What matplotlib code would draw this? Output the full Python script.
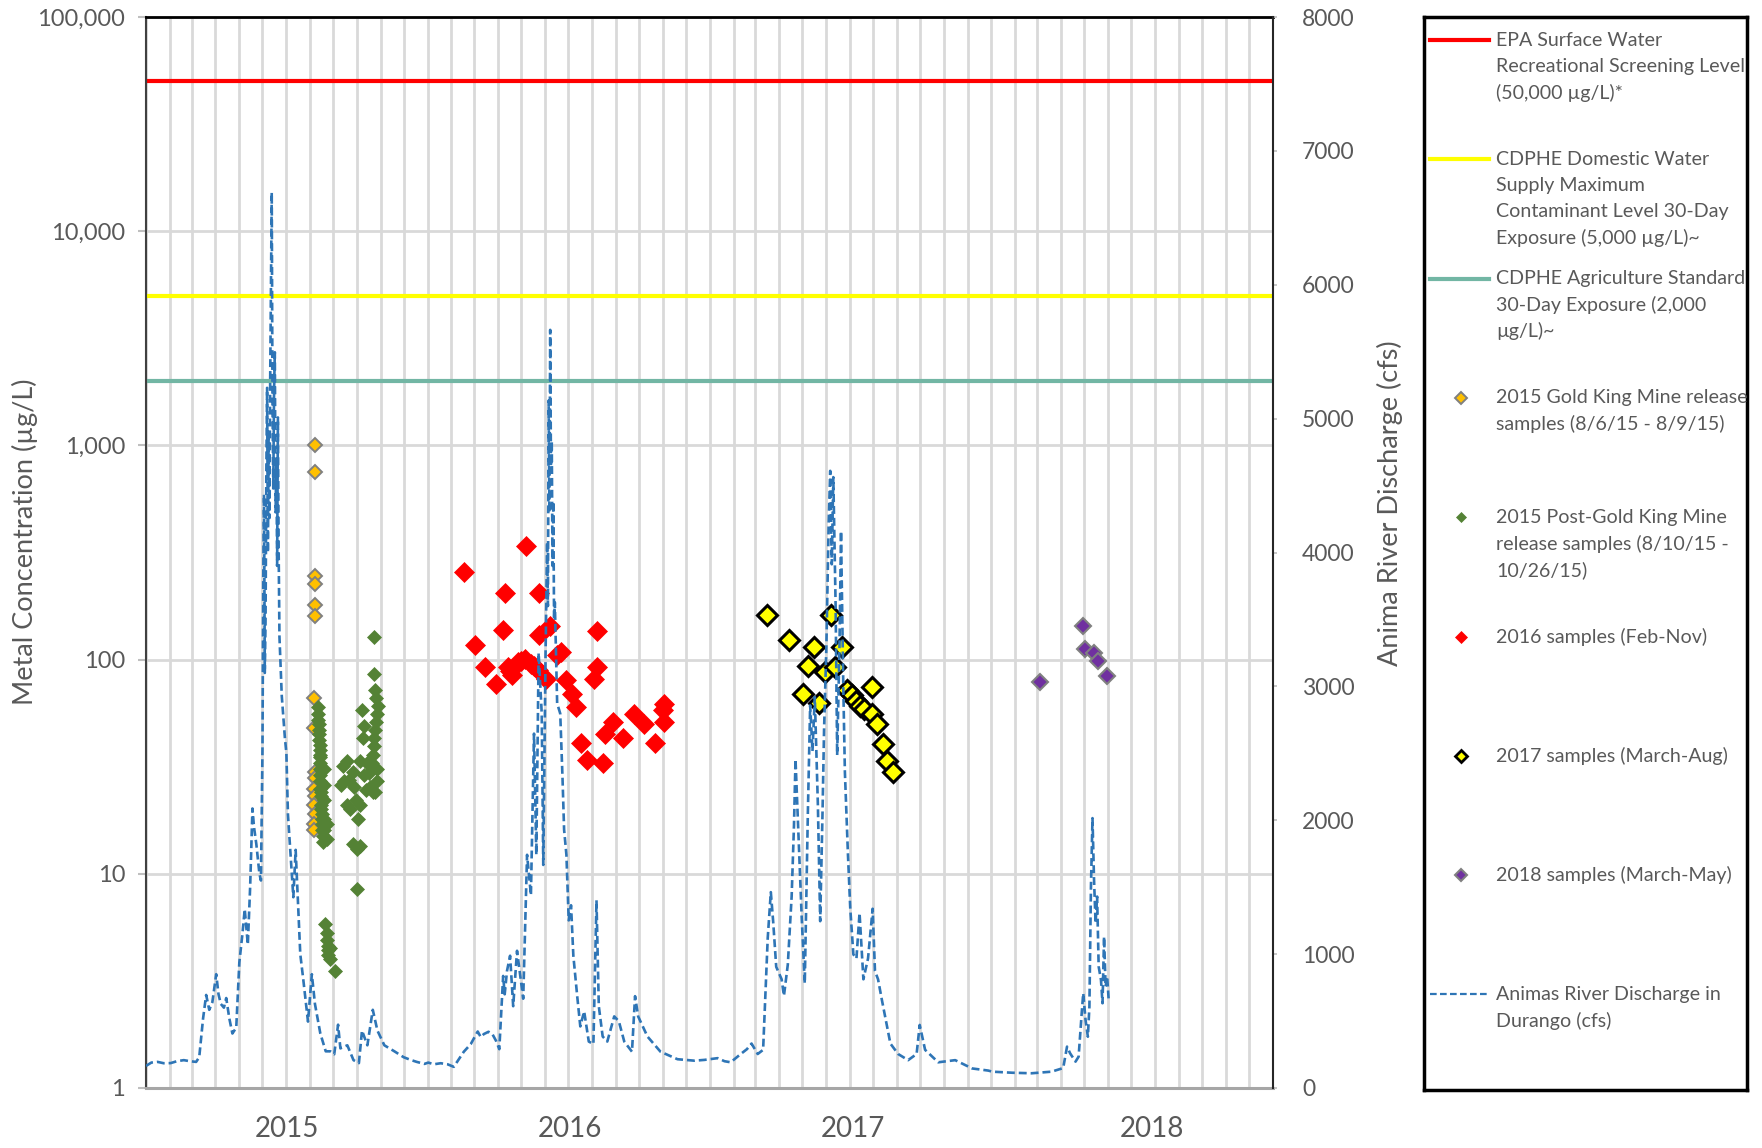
import matplotlib
matplotlib.use('Agg')
import matplotlib.pyplot as plt
import matplotlib.dates as mdates
import matplotlib.ticker as mticker
from matplotlib.lines import Line2D
import pandas as pd

plt.rcParams['font.family'] = ['Lato', 'DejaVu Sans']
TXT = '#595959'

# ---- Animas River discharge in Durango (cfs) ----
discharge_dates = [
    '2015-01-01', '2015-01-08', '2015-01-16', '2015-01-24', '2015-02-02', '2015-02-10',
    '2015-02-19', '2015-02-27', '2015-03-07', '2015-03-11', '2015-03-16', '2015-03-20',
    '2015-03-24', '2015-03-28', '2015-04-02', '2015-04-05', '2015-04-08', '2015-04-12',
    '2015-04-15', '2015-04-19', '2015-04-23', '2015-04-28', '2015-05-02', '2015-05-06',
    '2015-05-09', '2015-05-13', '2015-05-16', '2015-05-19', '2015-05-21', '2015-05-24',
    '2015-05-28', '2015-05-30', '2015-06-01', '2015-06-02', '2015-06-03', '2015-06-04',
    '2015-06-05', '2015-06-06', '2015-06-07', '2015-06-08', '2015-06-09', '2015-06-10',
    '2015-06-11', '2015-06-12', '2015-06-13', '2015-06-14', '2015-06-15', '2015-06-16',
    '2015-06-17', '2015-06-18', '2015-06-19', '2015-06-20', '2015-06-21', '2015-06-22',
    '2015-06-23', '2015-06-26', '2015-06-30', '2015-07-02', '2015-07-04', '2015-07-07',
    '2015-07-11', '2015-07-14', '2015-07-17', '2015-07-20', '2015-07-24', '2015-07-30',
    '2015-08-04', '2015-08-08', '2015-08-15', '2015-08-22', '2015-08-28', '2015-09-02',
    '2015-09-07', '2015-09-10', '2015-09-19', '2015-09-27', '2015-10-04', '2015-10-08',
    '2015-10-15', '2015-10-22', '2015-10-28', '2015-11-06', '2015-11-19', '2015-12-01',
    '2015-12-10', '2015-12-18', '2015-12-28',
    '2016-01-02', '2016-01-09', '2016-01-18', '2016-01-27', '2016-02-04', '2016-02-10',
    '2016-02-17', '2016-02-26', '2016-03-06', '2016-03-10', '2016-03-14', '2016-03-20',
    '2016-03-25', '2016-03-30', '2016-04-03', '2016-04-08', '2016-04-10', '2016-04-13',
    '2016-04-17', '2016-04-21', '2016-04-26', '2016-05-01', '2016-05-04', '2016-05-09',
    '2016-05-14', '2016-05-18', '2016-05-21', '2016-05-24', '2016-05-28', '2016-05-30',
    '2016-06-02', '2016-06-04', '2016-06-05', '2016-06-06', '2016-06-07', '2016-06-08',
    '2016-06-09', '2016-06-10', '2016-06-11', '2016-06-12', '2016-06-13',
    '2016-06-14', '2016-06-17', '2016-06-21', '2016-06-24', '2016-06-26', '2016-06-29',
    '2016-07-02', '2016-07-05', '2016-07-08', '2016-07-13', '2016-07-17', '2016-07-22',
    '2016-07-28', '2016-08-03', '2016-08-07', '2016-08-10', '2016-08-15', '2016-08-21',
    '2016-08-30', '2016-09-05', '2016-09-12', '2016-09-22', '2016-09-26', '2016-09-30',
    '2016-10-12', '2016-10-29', '2016-11-20', '2016-12-12', '2016-12-25',
    '2017-01-11', '2017-01-20', '2017-01-28', '2017-02-10', '2017-02-18', '2017-02-24',
    '2017-03-04', '2017-03-11', '2017-03-14', '2017-03-17', '2017-03-21', '2017-03-24',
    '2017-03-28', '2017-04-04', '2017-04-07', '2017-04-12', '2017-04-17', '2017-04-20',
    '2017-04-22', '2017-04-26', '2017-04-30', '2017-05-04', '2017-05-08', '2017-05-11',
    '2017-05-14', '2017-05-17', '2017-05-21', '2017-05-24', '2017-05-27', '2017-05-29',
    '2017-06-01', '2017-06-04', '2017-06-06', '2017-06-08', '2017-06-10', '2017-06-13',
    '2017-06-15', '2017-06-18', '2017-06-20', '2017-06-23', '2017-06-25', '2017-06-29',
    '2017-07-02', '2017-07-06', '2017-07-10', '2017-07-14', '2017-07-19', '2017-07-25',
    '2017-07-31', '2017-08-03', '2017-08-07', '2017-08-12', '2017-08-23', '2017-09-02',
    '2017-09-15', '2017-09-26', '2017-09-30', '2017-10-07', '2017-10-24', '2017-11-15',
    '2017-12-07', '2017-12-28',
    '2018-01-02', '2018-01-28', '2018-02-22', '2018-03-20', '2018-04-04', '2018-04-09',
    '2018-04-13', '2018-04-20', '2018-04-24', '2018-04-28', '2018-04-30', '2018-05-03',
    '2018-05-06', '2018-05-08', '2018-05-10', '2018-05-12', '2018-05-14', '2018-05-16',
    '2018-05-18', '2018-05-20', '2018-05-23', '2018-05-25', '2018-05-27', '2018-05-29',
    '2018-05-31', '2018-06-02',
]
discharge_cfs = [
    165, 190, 195, 185, 186, 200,
    208, 200, 195, 230, 520, 695,
    584, 640, 850, 700, 628, 600,
    672, 520, 407, 451, 938, 1150,
    1336, 1071, 1500, 2088, 1950, 1823,
    1602, 1550, 2531, 3800, 4434, 3100,
    3504, 4600, 5230, 4000, 4900, 4257,
    5300, 6000, 6690, 5100, 4478, 5200,
    5496, 4300, 4700, 3900, 5009, 4000,
    3372, 2929, 2619, 2500, 2044, 1779,
    1425, 1779, 1381, 1000, 805, 496,
    850, 628, 407, 274, 274, 252,
    473, 296, 319, 208, 186, 429,
    319, 584, 429, 319, 274, 230,
    210, 195, 180,
    190, 177, 185, 177, 158, 210,
    271, 328, 422, 380, 403, 420,
    403, 350, 290, 837, 700, 875,
    988, 611, 1025, 800, 667, 1742,
    1440, 2647, 1742, 3250, 2797, 1666,
    3250, 4079, 3600, 5135, 4300, 5663,
    4600, 4833, 3900, 4381, 3500,
    3627, 2873, 2797, 2307, 1930, 1742,
    1252, 1365, 988, 686, 460, 573,
    347, 328, 1402, 611, 385, 347,
    535, 498, 347, 271, 686, 535,
    385, 271, 215, 204, 210,
    223, 200, 192, 254, 290, 332,
    254, 285, 700, 1122, 1463, 1246,
    905, 812, 688, 921, 1432, 1959,
    2455, 1866, 1277, 781, 2052, 2858,
    2517, 2920, 2114, 1246, 2052, 2672,
    3292, 4222, 4610, 3912, 4563, 3602,
    2486, 3292, 4160, 2982, 2362, 1742,
    1339, 998, 967, 1308, 812, 967,
    1339, 874, 812, 657, 332, 254,
    208, 254, 471, 285, 192, 208,
    146, 130,
    122, 114, 110, 122, 149, 309,
    259, 197, 234, 558, 708, 508,
    383, 608, 1505, 2016, 1555, 1231,
    1430, 907, 807, 633, 1131, 757,
    832, 658,
]

# ---- Metal concentration samples (ug/L) ----
gk_dates = ['2015-08-08', '2015-08-08', '2015-08-08', '2015-08-08', '2015-08-08', '2015-08-08',
            '2015-08-07', '2015-08-07', '2015-08-08', '2015-08-08', '2015-08-07', '2015-08-08',
            '2015-08-07', '2015-08-08', '2015-08-07', '2015-08-07']
gk_vals = [1000, 750, 245, 225, 180, 160, 66, 48, 30, 28, 25, 23, 21, 19, 17, 16]

post_dates = (['2015-08-12'] * 3 + ['2015-08-13'] * 4 + ['2015-08-14'] * 5 + ['2015-08-15'] * 4
              + ['2015-08-16'] * 4 + ['2015-08-17'] * 4 + ['2015-08-18'] * 2 + ['2015-08-20'] * 5
              + ['2015-08-23'] * 2
              + ['2015-08-21', '2015-08-24', '2015-08-24', '2015-08-25', '2015-08-25', '2015-08-25',
                 '2015-08-27', '2015-08-27', '2015-09-03']
              + ['2015-09-13', '2015-09-19', '2015-09-15', '2015-09-21', '2015-09-11', '2015-09-26',
                 '2015-09-28', '2015-09-18', '2015-09-23', '2015-09-30', '2015-10-06', '2015-10-03',
                 '2015-09-26', '2015-10-06', '2015-10-01', '2015-10-01']
              + ['2015-10-08', '2015-10-10', '2015-10-09', '2015-10-06', '2015-10-14', '2015-10-17',
                 '2015-10-11', '2015-10-22', '2015-10-13']
              + ['2015-10-23', '2015-10-24', '2015-10-25', '2015-10-26', '2015-10-29', '2015-10-27',
                 '2015-10-26', '2015-10-25', '2015-10-24', '2015-10-23', '2015-10-22', '2015-10-21',
                 '2015-10-27', '2015-10-28', '2015-10-25', '2015-10-18'])
post_vals = ([60, 56, 52] + [50, 47, 45, 42] + [40, 38, 36, 35, 33] + [31, 29, 27, 25]
             + [24, 23, 21, 20] + [19, 18, 17, 16] + [15, 14] + [31, 26, 22, 18, 16]
             + [14.5, 17]
             + [5.8, 5.3, 4.9, 4.6, 4.4, 4.2, 4.5, 4.0, 3.5]
             + [32, 33.5, 27, 27.5, 26, 30, 25.5, 21, 20, 22, 21, 18, 13.8, 13.5, 13, 8.5]
             + [58, 49, 43, 33.5, 33, 29.5, 29, 24, 24.6]
             + [128, 86, 72, 66, 61, 56, 51, 47, 43, 39.5, 36, 33, 31, 27, 24, 25.5])

s2016_dates = ['2016-02-17', '2016-05-08', '2016-04-10', '2016-05-24', '2016-04-08', '2016-05-25',
               '2016-06-08', '2016-03-03', '2016-08-08', '2016-03-15', '2016-03-30', '2016-04-14',
               '2016-04-20', '2016-04-27', '2016-05-06', '2016-05-14', '2016-05-23', '2016-06-03',
               '2016-06-17', '2016-06-22', '2016-06-29', '2016-07-06', '2016-07-12', '2016-08-08',
               '2016-08-04', '2016-07-18', '2016-07-26', '2016-08-15', '2016-08-18', '2016-08-28',
               '2016-09-10', '2016-09-25', '2016-10-08', '2016-10-22', '2016-11-02', '2016-11-02',
               '2016-11-01', '2016-04-17', '2016-05-01', '2016-05-18']
s2016_vals = [256, 339, 205, 205, 138, 130,
              143, 117, 136, 92, 77, 92,
              84.5, 97.5, 101, 95.8, 89, 81.5,
              105, 108.6, 80, 69, 60, 92.4,
              81.5, 41, 34, 33, 45, 51,
              43, 56, 50, 41, 51, 62,
              58, 88, 99, 93]

s2017_dates = ['2017-03-16', '2017-04-14', '2017-05-16', '2017-06-07', '2017-06-21', '2017-05-08',
               '2017-05-30', '2017-06-12', '2017-05-02', '2017-05-23', '2017-07-30', '2017-06-28',
               '2017-07-04', '2017-07-09', '2017-07-15', '2017-07-20', '2017-07-30', '2017-08-06',
               '2017-08-13', '2017-08-19', '2017-08-27']
s2017_vals = [162, 124, 115, 162, 115, 93,
              87.5, 92, 69, 63, 74.5, 72,
              68, 64, 60.5, 59, 56, 50,
              40.5, 33.5, 30]

s2018_dates = ['2018-03-05', '2018-04-30', '2018-05-02', '2018-05-14', '2018-05-19', '2018-05-31']
s2018_vals = [78.6, 144, 112.6, 107, 99, 84]

# screening levels (ug/L)
epa_level = 50000
domestic_level = 5000
agri_level = 2000

year_labels = ['2015', '2016', '2017', '2018']
year_label_dates = ['2015-07-03', '2016-07-03', '2017-07-05', '2018-07-28']

legend_labels = [
    'EPA Surface Water\nRecreational Screening Level\n(50,000 µg/L)*',
    'CDPHE Domestic Water\nSupply Maximum\nContaminant Level 30-Day\nExposure (5,000 µg/L)~',
    'CDPHE Agriculture Standard\n30-Day Exposure (2,000\nµg/L)~',
    '2015 Gold King Mine release\nsamples (8/6/15 - 8/9/15)',
    '2015 Post-Gold King Mine\nrelease samples (8/10/15 -\n10/26/15)',
    '2016 samples (Feb-Nov)',
    '2017 samples (March-Aug)',
    '2018 samples (March-May)',
    'Animas River Discharge in\nDurango (cfs)',
]

d = pd.to_datetime

fig = plt.figure(figsize=(17.62, 11.48), dpi=100)
W, H = 1762, 1148
L, R, T, B = 146, 1273, 17, 1088
ax = fig.add_axes([L / W, 1 - B / H, (R - L) / W, (B - T) / H])
ax2 = ax.twinx()

# reference lines
ax.axhline(epa_level, color='#ff0000', lw=3, zorder=2)
ax.axhline(domestic_level, color='#ffff00', lw=3, zorder=2)
ax.axhline(agri_level, color='#72b6a4', lw=3, zorder=2)

# samples
ax.plot(d(gk_dates), gk_vals, ls='none', marker='D', ms=7, mfc='#ffc000', mec='#808080', mew=1.4, zorder=3)
ax.plot(d(post_dates), post_vals, ls='none', marker='D', ms=7.5, mfc='#548235', mec='#548235', mew=0.5, zorder=3)
ax.plot(d(s2016_dates), s2016_vals, ls='none', marker='D', ms=9.8, mfc='#ff0000', mec='#ff0000', mew=0.5, zorder=3)
ax.plot(d(s2017_dates), s2017_vals, ls='none', marker='D', ms=10, mfc='#ffff00', mec='black', mew=2.2, zorder=3)
ax.plot(d(s2018_dates), s2018_vals, ls='none', marker='D', ms=8.5, mfc='#7030a0', mec='#808080', mew=1.5, zorder=3)

# discharge on secondary axis
ax2.plot(d(discharge_dates), discharge_cfs, color='#2e75b6', lw=1.9, ls=(0, (3, 1.5)))

# axes scales
ax.set_yscale('log')
ax.set_ylim(1, 1e5)
ax.set_xlim(d('2015-01-01'), d('2019-01-01'))
ax2.set_ylim(0, 8000)

ax.yaxis.set_major_locator(mticker.LogLocator(base=10))
ax.yaxis.set_minor_locator(mticker.NullLocator())
ax.yaxis.set_major_formatter(mticker.FuncFormatter(lambda v, p: f'{v:,.0f}'))
ax.tick_params(axis='y', length=6, width=1.5, color='#bfbfbf', labelsize=17, labelcolor=TXT, pad=9)

ax.xaxis.set_major_locator(mdates.MonthLocator())
ax.tick_params(axis='x', which='major', length=0, labelbottom=False)
ax.xaxis.set_minor_locator(mticker.FixedLocator(mdates.date2num(d(['2016-01-01', '2017-01-01', '2018-01-01']))))
ax.tick_params(axis='x', which='minor', length=44, width=1, color='#a6a6a6', direction='out', labelbottom=False)
ax.grid(True, which='major', color='#d9d9d9', lw=2)
ax.set_axisbelow(True)

for lab, xd in zip(year_labels, year_label_dates):
    ax.text(d(xd), -0.038, lab, transform=ax.get_xaxis_transform(), ha='center', va='center',
            fontsize=20, color=TXT)

ax2.set_yticks(range(0, 8001, 1000))
ax2.tick_params(axis='y', length=3, width=1.2, color='#bfbfbf', labelsize=16.5, labelcolor=TXT, pad=18)

ax.set_ylabel('Metal Concentration (µg/L)', fontsize=19.5, color=TXT, va='center')
ax.yaxis.set_label_coords(-0.107, 0.51)
ax2.set_ylabel('Anima River Discharge (cfs)', fontsize=19.5, color=TXT)
ax2.yaxis.label.set_verticalalignment('center')
ax2.yaxis.set_label_coords(1.104, 0.546)

for s in ['top', 'left', 'bottom', 'right']:
    ax2.spines[s].set_visible(s == 'right')
ax.spines['right'].set_visible(False)
ax.spines['top'].set_color('black')
ax.spines['top'].set_linewidth(2)
ax.spines['left'].set_color('#404040')
ax.spines['left'].set_linewidth(1.5)
ax.spines['bottom'].set_color('#a6a6a6')
ax.spines['bottom'].set_linewidth(2.2)
ax2.spines['right'].set_color('#262626')
ax2.spines['right'].set_linewidth(1.5)

# legend box
LL, LR, LT, LB = 1424, 1747, 17, 1090
lax = fig.add_axes([LL / W, 1 - LB / H, (LR - LL) / W, (LB - LT) / H])
lax.set_xlim(LL, LR)
lax.set_ylim(LB, LT)
lax.set_xticks([])
lax.set_yticks([])
for s in lax.spines.values():
    s.set_linewidth(2.5)
    s.set_color('black')

handles = [
    dict(color='#ff0000', lw=3, ls='-'),
    dict(color='#ffff00', lw=3, ls='-'),
    dict(color='#72b6a4', lw=3, ls='-'),
    dict(ls='none', marker='D', ms=6.5, mfc='#ffc000', mec='#808080', mew=1.4),
    dict(ls='none', marker='D', ms=5.5, mfc='#548235', mec='#548235', mew=0.5),
    dict(ls='none', marker='D', ms=6, mfc='#ff0000', mec='#ff0000', mew=0.5),
    dict(ls='none', marker='D', ms=6.5, mfc='#ffff00', mec='black', mew=2),
    dict(ls='none', marker='D', ms=6.5, mfc='#7030a0', mec='#808080', mew=1.5),
    dict(color='#2e75b6', lw=1.6, ls=(0, (3, 1.5))),
]
y0, step, line_h = 40, 119.3, 26.3
for i, (lab, h) in enumerate(zip(legend_labels, handles)):
    yy = y0 + i * step
    if h.get('ls') == 'none':
        lax.add_line(Line2D([1461], [yy], **h))
    else:
        lax.add_line(Line2D([1430, 1489], [yy, yy], **h))
    for j, line in enumerate(lab.split('\n')):
        lax.text(1496, yy + j * line_h, line, ha='left', va='center', fontsize=14.1, color=TXT)

fig.savefig('out.png', dpi=100, facecolor='white')
